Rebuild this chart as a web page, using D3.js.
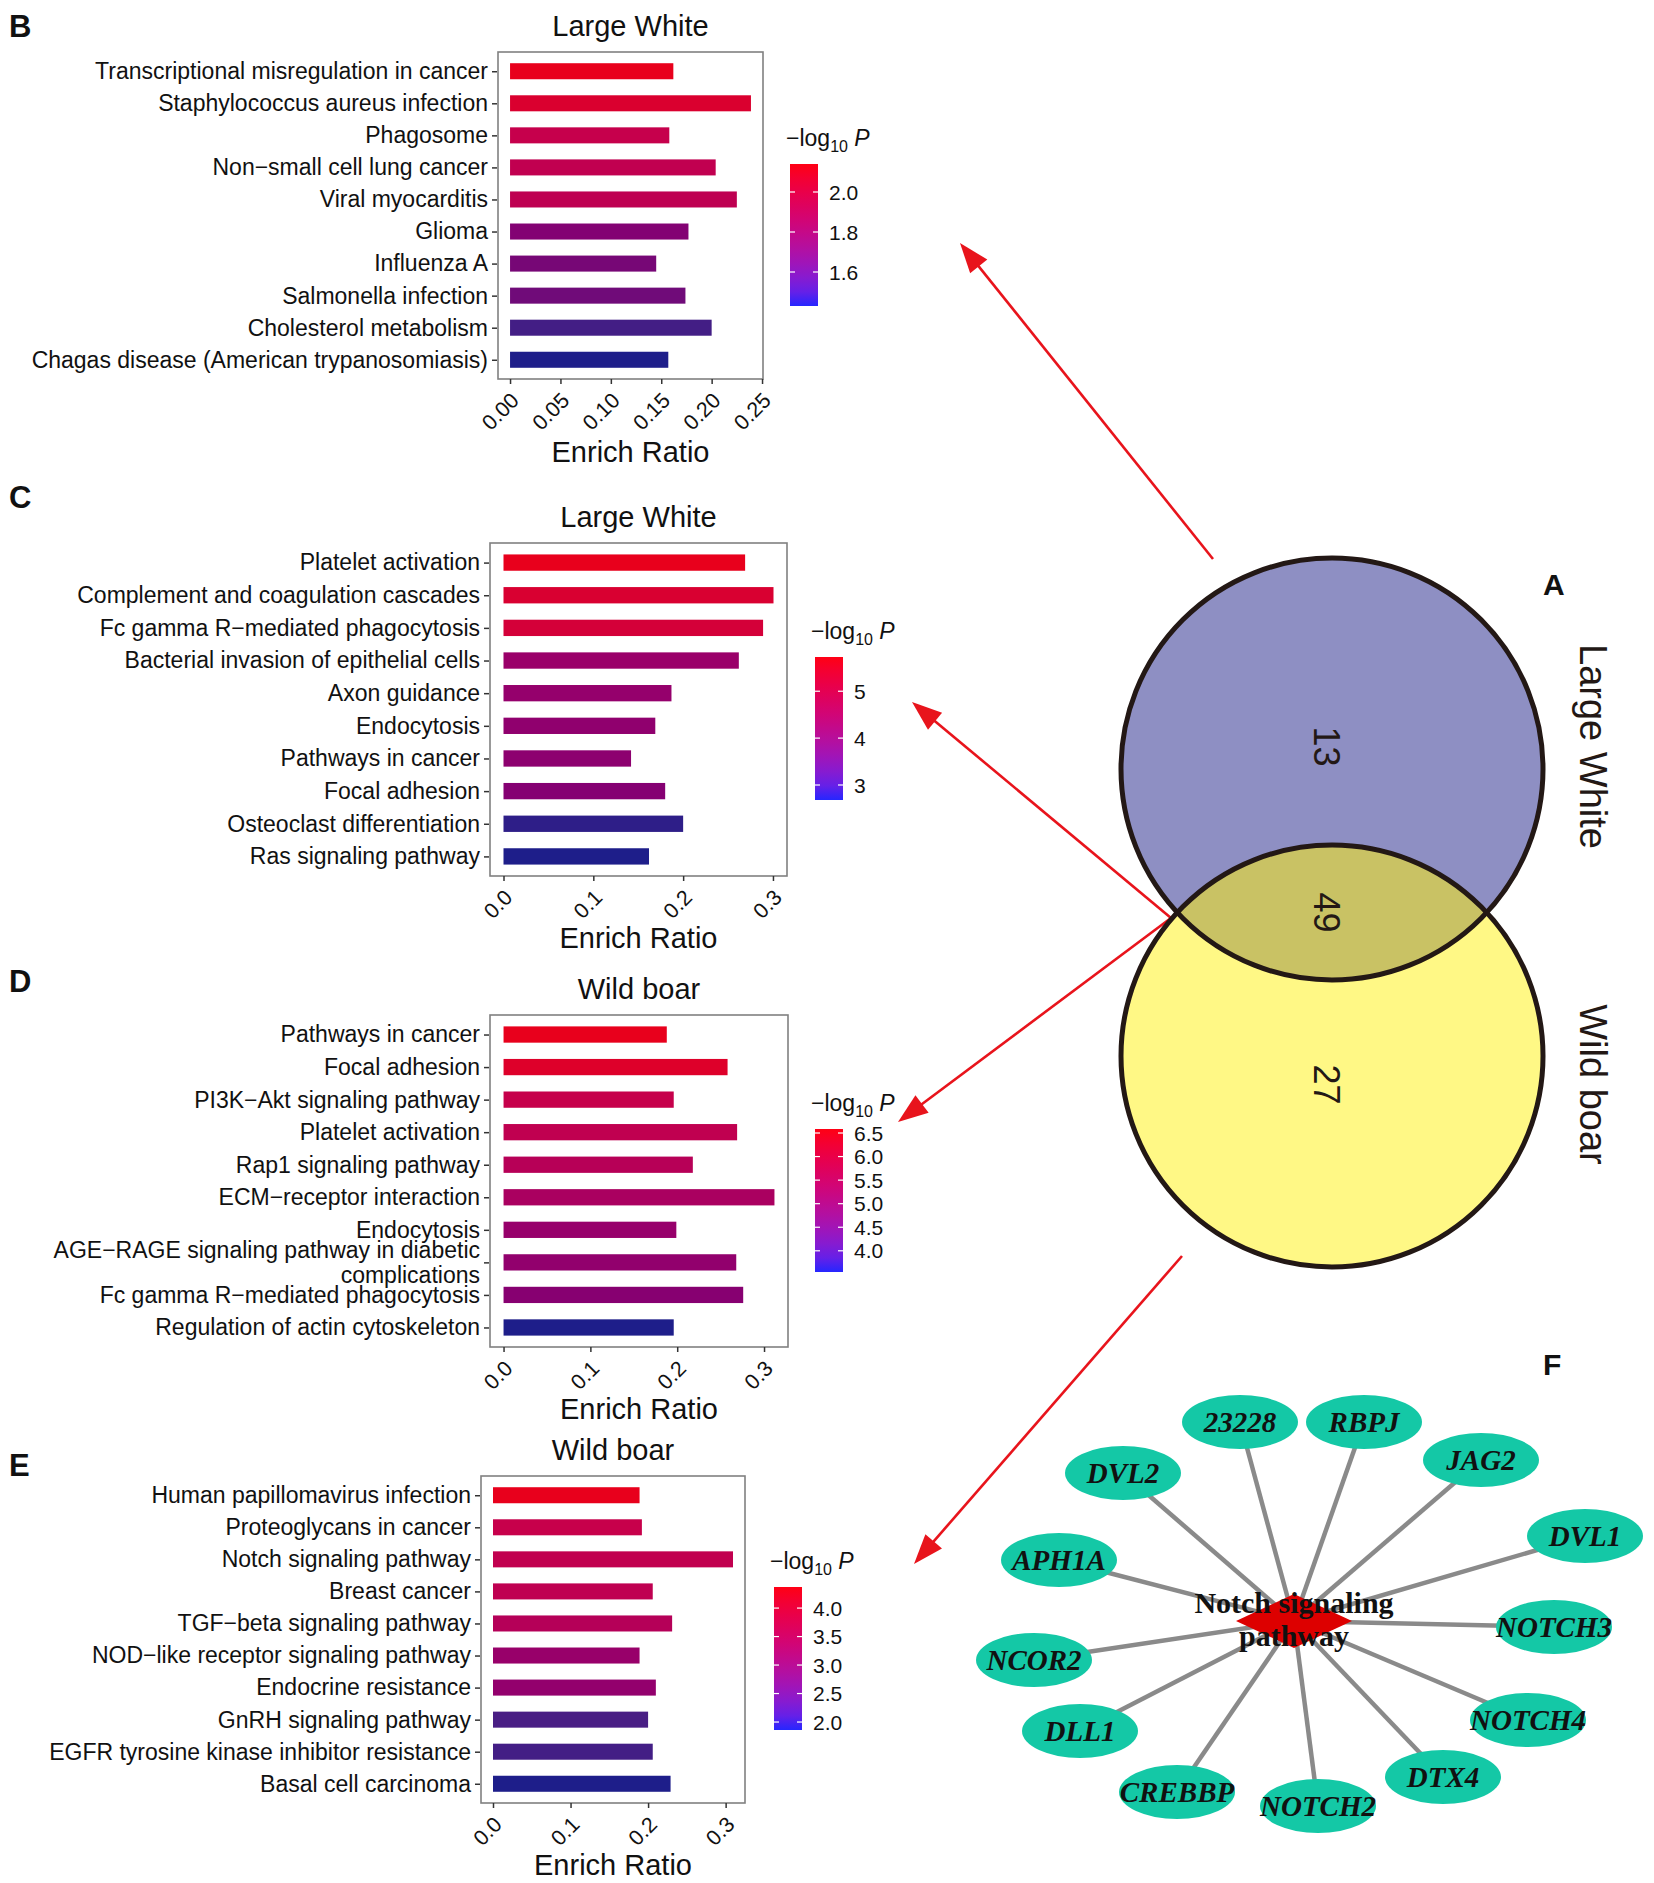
<!DOCTYPE html>
<html><head><meta charset="utf-8">
<script src="https://cdn.jsdelivr.net/npm/d3@7"></script>
<style>body{margin:0;background:#fff} svg{display:block}</style>
</head><body>
<script>
// ---------------- DATA ----------------
const catsB = ["Transcriptional misregulation in cancer","Staphylococcus aureus infection","Phagosome","Non−small cell lung cancer","Viral myocarditis","Glioma","Influenza A","Salmonella infection","Cholesterol metabolism","Chagas disease (American trypanosomiasis)"];
const ratioB = [0.162,0.239,0.158,0.204,0.225,0.177,0.145,0.174,0.200,0.157];
const logpB  = [2.14,2.08,1.99,1.97,1.96,1.72,1.69,1.67,1.55,1.43];

const catsC = ["Platelet activation","Complement and coagulation cascades","Fc gamma R−mediated phagocytosis","Bacterial invasion of epithelial cells","Axon guidance","Endocytosis","Pathways in cancer","Focal adhesion","Osteoclast differentiation","Ras signaling pathway"];
const ratioC = [0.269,0.3006,0.289,0.262,0.187,0.169,0.142,0.180,0.200,0.162];
const logpC  = [5.73,5.45,5.35,4.35,4.25,4.15,4.10,3.95,2.90,2.68];

const catsD = ["Pathways in cancer","Focal adhesion","PI3K−Akt signaling pathway","Platelet activation","Rap1 signaling pathway","ECM−receptor interaction","Endocytosis","AGE−RAGE signaling pathway in diabetic complications","Fc gamma R−mediated phagocytosis","Regulation of actin cytoskeleton"];
const ratioD = [0.188,0.258,0.196,0.269,0.218,0.312,0.199,0.268,0.276,0.196];
const logpD  = [6.585,6.40,5.95,5.85,5.70,5.50,5.15,5.05,4.85,3.55];

const catsE = ["Human papillomavirus infection","Proteoglycans in cancer","Notch signaling pathway","Breast cancer","TGF−beta signaling pathway","NOD−like receptor signaling pathway","Endocrine resistance","GnRH signaling pathway","EGFR tyrosine kinase inhibitor resistance","Basal cell carcinoma"];
const ratioE = [0.189,0.192,0.3095,0.206,0.231,0.189,0.210,0.200,0.206,0.229];
const logpE  = [4.37,3.85,3.78,3.75,3.62,3.20,3.12,2.35,2.28,1.86];

const xTicks2 = [0,0.05,0.10,0.15,0.20,0.25];
const xTicks1 = [0,0.1,0.2,0.3];
const legTicksB = [1.6,1.8,2.0];
const legTicksC = [3,4,5];
const legTicksD = [4.0,4.5,5.0,5.5,6.0,6.5];
const legTicksE = [2.0,2.5,3.0,3.5,4.0];

const vennSets = ["Large White","Wild boar"];
const vennCounts = [13,49,27];

const hubName = "Notch signaling pathway";
const genes = ["23228","RBPJ","JAG2","DVL1","NOTCH3","NOTCH4","DTX4","NOTCH2","CREBBP","DLL1","NCOR2","APH1A","DVL2"];

// ---------------- LAYOUT ----------------
const W=1654,H=1883;
const SANS="'Liberation Sans', Arial, Helvetica, sans-serif";
const SERIF="'Liberation Serif','Times New Roman',Times,serif";
const geneLayout = [[1240,1422],[1364,1422],[1481,1460],[1585,1536],[1554,1627],[1528,1720],[1443,1777],[1318,1806],[1177,1792],[1080,1731],[1034,1660],[1059,1560],[1123,1473]];
const hubXY = [1294,1621];
const arrows = [[[1213,559],[960,243]],[[1171,918],[912,702]],[[1171,918],[898,1122]],[[1182,1256],[914,1564]]];

const svg=d3.select("body").append("svg").attr("width",W).attr("height",H).attr("viewBox",`0 0 ${W} ${H}`);
svg.append("rect").attr("width",W).attr("height",H).attr("fill","#fff");
const defs=svg.append("defs");

const barRamp=d3.scaleLinear().domain([0,0.2,0.42,0.6,0.8,1]).range(["#1E1E8A","#4A1E84","#860072","#A20066","#C8004A","#E8001C"]).clamp(true);
const legRamp=d3.interpolateLab("#2626FF","#FF0014");

function wrapWords(s,n){const w=s.split(" ");const lines=[];let cur="";w.forEach(k=>{if(cur&&(cur+" "+k).length>n){lines.push(cur);cur=k;}else cur=cur?cur+" "+k:k;});if(cur)lines.push(cur);return lines;}

function panel(cfg,idx){
  const g=svg.append("g");
  const [x0,x1,y0,y1]=cfg.box;
  const xMax=d3.max(cfg.ratio);
  const x=d3.scaleLinear().domain([-0.05*xMax,1.05*xMax]).range([x0,x1]);
  const y=d3.scalePoint().domain(cfg.cats).range([y0,y1]).padding(0.6);
  const bh=y.step()*0.5;
  const ext=d3.extent(cfg.logp);
  const t=d3.scaleLinear().domain(ext).range([0,1]);

  g.append("rect").attr("x",x0).attr("y",y0).attr("width",x1-x0).attr("height",y1-y0)
    .attr("fill","#fff").attr("stroke","#808080").attr("stroke-width",1.6);
  g.selectAll("rect.bar").data(cfg.cats).join("rect").attr("class","bar")
    .attr("x",x(0)).attr("y",d=>y(d)-bh/2).attr("height",bh)
    .attr("width",(d,i)=>x(cfg.ratio[i])-x(0))
    .attr("fill",(d,i)=>barRamp(t(cfg.logp[i])));

  const ya=g.append("g").attr("transform",`translate(${x0-1},0)`)
    .call(d3.axisLeft(y).tickSize(5).tickPadding(4));
  ya.select(".domain").remove();
  ya.attr("font-family",SANS).attr("font-size",23);
  ya.selectAll("line").attr("stroke","#333").attr("stroke-width",1.5);
  ya.selectAll("text").attr("fill","#111").each(function(d){
    if(cfg.wrap && d.length>cfg.wrap){
      const lines=wrapWords(d,cfg.wrap);
      const el=d3.select(this).text(null).attr("dy",null);
      lines.forEach((l,i)=>el.append("tspan").attr("x",-9).attr("dy",i===0?(0.32-0.55*(lines.length-1))+"em":"1.1em").text(l));
    }
  });

  const xa=g.append("g").attr("transform",`translate(0,${y1})`)
    .call(d3.axisBottom(x).tickValues(cfg.xTicks).tickFormat(d3.format(cfg.xFmt)).tickSize(5));
  xa.select(".domain").remove();
  xa.attr("font-family",SANS).attr("font-size",21.5);
  xa.selectAll("line").attr("stroke","#333").attr("stroke-width",1.5);
  xa.selectAll("text").attr("fill","#111").attr("x",0).attr("y",0).attr("dy","0.71em")
    .attr("text-anchor","end").attr("transform","translate(-1,12) rotate(-45)");

  g.append("text").attr("x",(x0+x1)/2).attr("y",y0-16).attr("text-anchor","middle")
    .attr("font-family",SANS).attr("font-size",29).attr("fill","#111").text(cfg.title);
  g.append("text").attr("x",(x0+x1)/2).attr("y",y1+cfg.xtOff).attr("text-anchor","middle")
    .attr("font-family",SANS).attr("font-size",29).attr("fill","#111").text("Enrich Ratio");
  g.append("text").attr("x",9).attr("y",cfg.labelY).attr("font-family",SANS).attr("font-weight","bold")
    .attr("font-size",31).attr("fill","#111").text(cfg.label);

  // legend
  const [lx,ly0,ly1]=cfg.leg; const lw=28;
  const gid="grad"+idx;
  const gr=defs.append("linearGradient").attr("id",gid).attr("x1",0).attr("y1",1).attr("x2",0).attr("y2",0);
  d3.range(0,1.0001,0.1).forEach(s=>gr.append("stop").attr("offset",s).attr("stop-color",legRamp(s)));
  g.append("rect").attr("x",lx).attr("y",ly0).attr("width",lw).attr("height",ly1-ly0).attr("fill",`url(#${gid})`);
  const ly=d3.scaleLinear().domain(ext).range([ly1,ly0]);
  cfg.legTicks.forEach(v=>{
    const yy=ly(v);
    g.append("line").attr("x1",lx).attr("x2",lx+5).attr("y1",yy).attr("y2",yy).attr("stroke","#fff").attr("stroke-width",1.2);
    g.append("line").attr("x1",lx+lw-5).attr("x2",lx+lw).attr("y1",yy).attr("y2",yy).attr("stroke","#fff").attr("stroke-width",1.2);
    g.append("text").attr("x",lx+lw+11).attr("y",yy).attr("dy","0.36em").attr("font-family",SANS)
      .attr("font-size",21).attr("fill","#111").text(d3.format(cfg.legFmt)(v));
  });
  const lt=g.append("text").attr("x",lx-4).attr("y",ly0-18).attr("font-family",SANS).attr("font-size",23).attr("fill","#111");
  lt.append("tspan").text("−log");
  lt.append("tspan").attr("dy",6).attr("font-size",16).text("10");
  lt.append("tspan").attr("dy",-6).text(" ");
  lt.append("tspan").attr("font-style","italic").text("P");
}

panel({cats:catsB,ratio:ratioB,logp:logpB,box:[498,763,52,379],xTicks:xTicks2,xFmt:".2f",title:"Large White",label:"B",labelY:37,xtOff:83,leg:[790,164,306],legTicks:legTicksB,legFmt:".1f"},0);
panel({cats:catsC,ratio:ratioC,logp:logpC,box:[490,787,543,876],xTicks:xTicks1,xFmt:".1f",title:"Large White",label:"C",labelY:508,xtOff:72,leg:[815,657,800],legTicks:legTicksC,legFmt:"d"},1);
panel({cats:catsD,ratio:ratioD,logp:logpD,box:[490,788,1015,1347],xTicks:xTicks1,xFmt:".1f",title:"Wild boar",label:"D",labelY:992,xtOff:72,leg:[815,1129,1272],legTicks:legTicksD,legFmt:".1f",wrap:40},2);
panel({cats:catsE,ratio:ratioE,logp:logpE,box:[481,745,1476,1803],xTicks:xTicks1,xFmt:".1f",title:"Wild boar",label:"E",labelY:1476,xtOff:72,leg:[774,1587,1730],legTicks:legTicksE,legFmt:".1f"},3);

// ---------------- ARROWS ----------------
const ag=svg.append("g");
arrows.forEach(([s,e])=>{
  const dx=e[0]-s[0],dy=e[1]-s[1],L=Math.hypot(dx,dy),ux=dx/L,uy=dy/L;
  const hl=30,hw=11;
  const bx=e[0]-ux*hl,by=e[1]-uy*hl;
  ag.append("line").attr("x1",s[0]).attr("y1",s[1]).attr("x2",bx+ux*2).attr("y2",by+uy*2).attr("stroke","#E8141C").attr("stroke-width",2.6);
  ag.append("path").attr("d",`M${e[0]},${e[1]}L${bx-uy*hw},${by+ux*hw}L${bx+uy*hw},${by-ux*hw}Z`).attr("fill","#E8141C");
});

// ---------------- VENN ----------------
const vg=svg.append("g");
const vc=[[1332,769],[1332,1056]],vr=211;
vg.append("circle").attr("cx",vc[0][0]).attr("cy",vc[0][1]).attr("r",vr).attr("fill","#8E8FC3");
vg.append("circle").attr("cx",vc[1][0]).attr("cy",vc[1][1]).attr("r",vr).attr("fill","#FFF885");
defs.append("clipPath").attr("id","clip1").append("circle").attr("cx",vc[0][0]).attr("cy",vc[0][1]).attr("r",vr);
vg.append("circle").attr("cx",vc[1][0]).attr("cy",vc[1][1]).attr("r",vr).attr("fill","#C9C264").attr("clip-path","url(#clip1)");
vc.forEach(c=>vg.append("circle").attr("cx",c[0]).attr("cy",c[1]).attr("r",vr).attr("fill","none").attr("stroke","#231815").attr("stroke-width",5));
const lensMid=(vc[0][1]+vc[1][1])/2;
const numY=[lensMid-166,lensMid,lensMid+172];
vennCounts.forEach((v,i)=>{
  vg.append("text").attr("transform",`translate(1314,${numY[i]}) rotate(90)`).attr("text-anchor","middle")
    .attr("font-family",SANS).attr("font-size",36).attr("fill","#231815").text(v);
});
[numY[0],numY[2]].forEach((yy,i)=>{
  vg.append("text").attr("transform",`translate(1580,${yy}) rotate(90)`).attr("text-anchor","middle")
    .attr("font-family",SANS).attr("font-size",38).attr("fill","#231815").text(vennSets[i]);
});
svg.append("text").attr("x",1543).attr("y",595).attr("font-family",SANS).attr("font-weight","bold").attr("font-size",30).attr("fill","#111").text("A");

// ---------------- NETWORK ----------------
const ng=svg.append("g");
svg.append("text").attr("x",1543).attr("y",1375).attr("font-family",SANS).attr("font-weight","bold").attr("font-size",30).attr("fill","#111").text("F");
genes.forEach((gname,i)=>{
  ng.append("line").attr("x1",hubXY[0]).attr("y1",hubXY[1]).attr("x2",geneLayout[i][0]).attr("y2",geneLayout[i][1])
    .attr("stroke","#8A8A8A").attr("stroke-width",4.5);
});
ng.append("path").attr("d",`M${hubXY[0]-58},${hubXY[1]}L${hubXY[0]},${hubXY[1]-27}L${hubXY[0]+58},${hubXY[1]}L${hubXY[0]},${hubXY[1]+27}Z`).attr("fill","#DD0000");
genes.forEach((gname,i)=>{
  const [gx,gy]=geneLayout[i];
  ng.append("ellipse").attr("cx",gx).attr("cy",gy).attr("rx",58).attr("ry",27).attr("fill","#14C8A6");
  ng.append("text").attr("x",gx).attr("y",gy).attr("dy","0.35em").attr("text-anchor","middle")
    .attr("font-family",SERIF).attr("font-weight","bold").attr("font-style","italic").attr("font-size",29).attr("fill","#111").text(gname);
});
const hubLines=wrapWords(hubName,16);
hubLines.forEach((l,i)=>{
  ng.append("text").attr("x",hubXY[0]).attr("y",1613+i*33).attr("text-anchor","middle")
    .attr("font-family",SERIF).attr("font-weight","bold").attr("font-size",30).attr("fill","#111").text(l);
});
</script>
</body></html>
